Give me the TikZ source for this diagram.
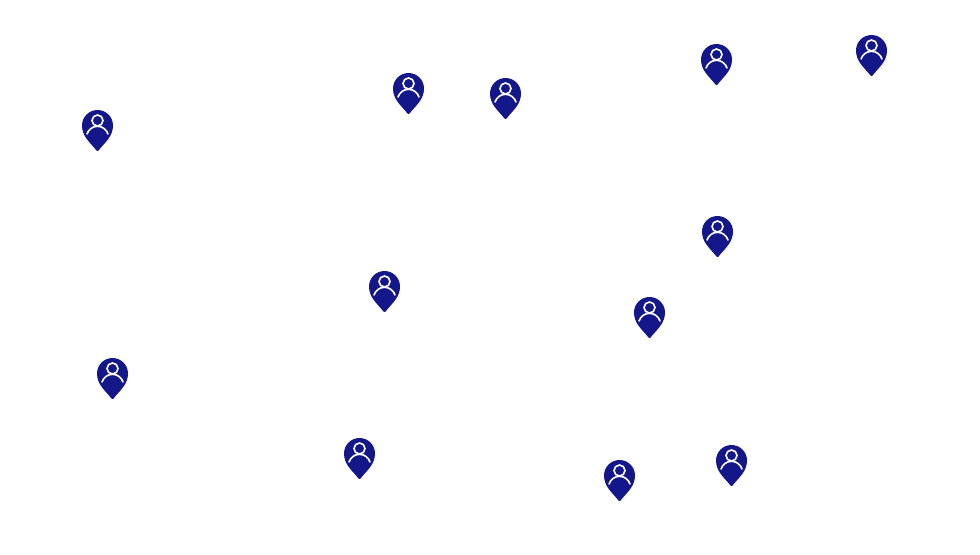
\documentclass[tikz,border=0pt]{standalone}
\definecolor{pinblue}{HTML}{14178A}
\tikzset{
  pics/userpin/.style={code={
    \fill[pinblue] (0,-41) .. controls (-1,-41) and (-1.6,-40) .. (-2.4,-38.8)
      .. controls (-8,-32) and (-15.5,-26) .. (-15.5,-15.5)
      arc[start angle=180,end angle=0,radius=15.5]
      .. controls (15.5,-26) and (8,-32) .. (2.4,-38.8)
      .. controls (1.6,-40) and (1,-41) .. (0,-41) -- cycle;
    \draw[white,line width=1.2] (0,-10.5) circle[radius=5.5];
    \draw[white,line width=1.2,line cap=round] (-10.5,-24) .. controls (-9,-19.5) and (-5,-16.3) .. (0,-16.3)
      .. controls (5,-16.3) and (9,-19.5) .. (10.5,-24);
  }}
}
\begin{document}
\begin{tikzpicture}[x=0.75pt,y=0.75pt]
\useasboundingbox (0,0) rectangle (980,-554);
\foreach \px/\py in {97.5/110,408.5/73,505.5/78,716.5/44,871.5/35,717.5/216,384.5/271,649.5/297,112.5/358,359.5/438,619.5/460,731.5/445}
  \path (\px,-\py) pic {userpin};
\end{tikzpicture}
\end{document}
